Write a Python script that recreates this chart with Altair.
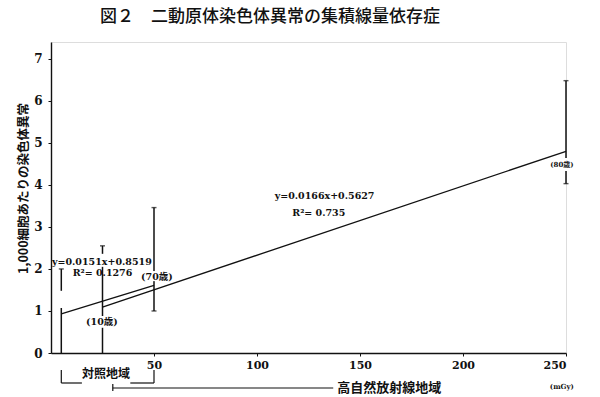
import altair as alt
import pandas as pd

# ---- data ----
bar_x = [5, 25, 50, 250]            # mGy
bar_low = [0.0, 0.0, 1.0, 4.03]
bar_high = [2.0, 2.55, 3.46, 6.48]

# gaps in the bars (where labels / markers sit)
gap_x = [5, 25, 25, 50, 250]
gap_lo = [1.07, 0.60, 2.05, 1.71, 4.33]
gap_hi = [1.48, 0.88, 2.36, 1.95, 4.64]

ctrl_fit_x = [5, 50]
ctrl_fit_y = [0.93, 1.61]
high_fit_x = [25, 250]
high_fit_y = [1.09, 4.80]

eq_text = ["y=0.0151x+0.8519", "R²= 0.1276", "y=0.0166x+0.5627", "R²= 0.735"]
eq_x = [24.7, 25.0, 132.8, 130.0]
eq_y = [2.17, 1.91, 3.74, 3.33]

age_text = ["(10歳)", "(70歳)", "(80歳)"]
age_x = [24.7, 51.4, 248.0]
age_y = [0.74, 1.81, 4.47]
age_size = [9.5, 9.5, 7]

x_ticks = [50, 100, 150, 200, 250]
y_ticks = [0, 1, 2, 3, 4, 5, 6, 7]

title = "図２　二動原体染色体異常の集積線量依存症"
y_title = "1,000細胞あたりの染色体異常"
ctrl_label = "対照地域"
high_label = "高自然放射線地域"
unit_label = "(mGy)"

SERIF = "'DejaVu Serif', 'Noto Sans CJK JP'"
SANS = "'Noto Sans CJK JP'"
INK = "#111111"

xs = alt.Scale(domain=[0, 250], nice=False)
ys = alt.Scale(domain=[0, 7.4], nice=False)

bars = pd.DataFrame({"x": bar_x, "lo": bar_low, "hi": bar_high})
gaps = pd.DataFrame({"x": gap_x, "lo": gap_lo, "hi": gap_hi})
caps = pd.concat([
    pd.DataFrame({"x": bar_x, "y": bar_high}),
    pd.DataFrame({"x": bar_x, "y": bar_low})[pd.Series(bar_low) > 0],
])
fits = pd.concat([
    pd.DataFrame({"x": ctrl_fit_x, "y": ctrl_fit_y, "g": "ctrl"}),
    pd.DataFrame({"x": high_fit_x, "y": high_fit_y, "g": "high"}),
])
eqs = pd.DataFrame({"t": eq_text, "x": eq_x, "y": eq_y})
ages = pd.DataFrame({"t": age_text, "x": age_x, "y": age_y, "s": age_size})

X = alt.X("x:Q", scale=xs, axis=alt.Axis(values=x_ticks, title=None, grid=False,
          labelFont=SERIF, labelFontWeight="bold", labelFontSize=11, labelColor=INK,
          domainColor=INK, domainWidth=1.4, tickColor=INK, tickSize=3, labelPadding=3))
Y = alt.Y("lo:Q", scale=ys, axis=alt.Axis(values=y_ticks, title=y_title, grid=False,
          labelFont=SERIF, labelFontWeight="bold", labelFontSize=12, labelColor=INK,
          domainColor=INK, domainWidth=1.4, tickColor=INK, tickSize=3, labelPadding=6,
          titleFont=SANS, titleFontWeight="bold", titleFontSize=12.5, titleColor=INK,
          titleAngle=-90, titleX=-28, titleY=146, titleAlign="center",
          titleBaseline="middle"))

err = alt.Chart(bars).mark_rule(color=INK, strokeWidth=1.5).encode(x=X, y=Y, y2="hi:Q")
gap = alt.Chart(gaps).mark_rule(color="white", strokeWidth=4).encode(
    x=alt.X("x:Q", scale=xs), y=alt.Y("lo:Q", scale=ys), y2="hi:Q")
cap = alt.Chart(caps).mark_tick(color=INK, orient="horizontal", size=5, thickness=1.4).encode(
    x=alt.X("x:Q", scale=xs), y=alt.Y("y:Q", scale=ys))
fit = alt.Chart(fits).mark_line(color=INK, strokeWidth=1.3).encode(
    x=alt.X("x:Q", scale=xs), y=alt.Y("y:Q", scale=ys), detail="g:N")
eq = alt.Chart(eqs).mark_text(font=SERIF, fontWeight="bold", fontSize=9.5).encode(
    x=alt.X("x:Q", scale=xs), y=alt.Y("y:Q", scale=ys), text="t:N",
    color=alt.value(INK))
age = alt.Chart(ages).mark_text(font=SERIF, fontWeight="bold").encode(
    x=alt.X("x:Q", scale=xs), y=alt.Y("y:Q", scale=ys), text="t:N",
    size=alt.Size("s:Q", scale=None, legend=None), color=alt.value(INK))

# bottom brackets (x in data units, y below the axis)
ctrl_h = pd.DataFrame({"x": [5, 38.5], "x2": [15, 50]})
ctrl_v = pd.DataFrame({"x": [5, 50]})
br1 = alt.Chart(ctrl_h).mark_rule(color=INK, strokeWidth=1.2).encode(
    x=alt.X("x:Q", scale=xs), x2="x2:Q", y=alt.value(341))
br2 = alt.Chart(ctrl_v).mark_rule(color=INK, strokeWidth=1.2).encode(
    x=alt.X("x:Q", scale=xs), y=alt.value(328), y2=alt.value(341))
high_h = pd.DataFrame({"x": [30], "x2": [137]})
br3 = alt.Chart(high_h).mark_rule(color=INK, strokeWidth=1.2).encode(
    x=alt.X("x:Q", scale=xs), x2="x2:Q", y=alt.value(346))
br4 = alt.Chart(high_h).mark_rule(color=INK, strokeWidth=1.2).encode(
    x=alt.X("x:Q", scale=xs), y=alt.value(342), y2=alt.value(349))
lab = pd.DataFrame({"t": [ctrl_label], "x": [26.7]})
lab1 = alt.Chart(lab).mark_text(font=SANS, fontWeight="bold", fontSize=12,
                                baseline="middle").encode(
    x=alt.X("x:Q", scale=xs), y=alt.value(332), text="t:N", color=alt.value(INK))
lab2d = pd.DataFrame({"t": [high_label], "x": [139.0]})
lab2 = alt.Chart(lab2d).mark_text(font=SANS, fontWeight="bold", fontSize=13,
                                  align="left", baseline="middle").encode(
    x=alt.X("x:Q", scale=xs), y=alt.value(346), text="t:N", color=alt.value(INK))
lab3d = pd.DataFrame({"t": [unit_label], "x": [248.0]})
lab3 = alt.Chart(lab3d).mark_text(font=SERIF, fontWeight="bold", fontSize=7,
                                  baseline="middle").encode(
    x=alt.X("x:Q", scale=xs), y=alt.value(345), text="t:N", color=alt.value(INK))

chart = alt.layer(err, cap, gap, fit, eq, age, br1, br2, br3, br4, lab1, lab2, lab3).properties(
    width=515, height=311,
    autosize=alt.AutoSizeParams(type="none"),
    padding={"left": 51, "top": 42, "right": 34, "bottom": 44},
    title=alt.TitleParams(title, anchor="start", frame="group", dx=49, offset=16,
                          fontSize=17, font=SANS, fontWeight=500, color=INK),
).configure_view(stroke=None).configure(background="white")

chart.save("out.html", embed_options={"renderer": "svg", "actions": False})
